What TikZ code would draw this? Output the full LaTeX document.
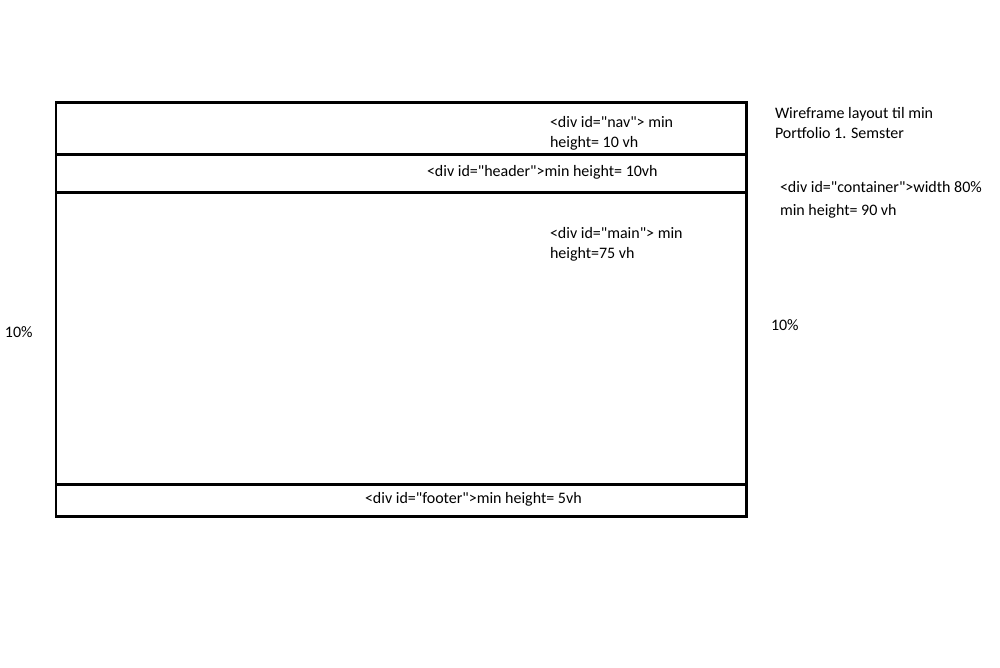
\documentclass[tikz,border=0pt]{standalone}
\usepackage{fontspec}
\setmainfont{Carlito}
\newcommand\qt{\textquotedbl}

\begin{document}
\begin{tikzpicture}[x=0.02cm,y=-0.02cm,line width=1.7pt,
   every node/.style={inner sep=0pt, outer sep=0pt, anchor=west, align=left, font=\fontsize{9.1}{11.2}\selectfont}]
   \useasboundingbox (0,0) rectangle (1000,667);
   % outer box and the parts
   \draw (56,102) rectangle (746,516);
   \draw (56,154) -- (746,154);
   \draw (56,192) -- (746,192);
   \draw (56,484) -- (746,484);
   \node (nav) at (550,133) {<div id=\qt nav\qt> min\\height= 10 vh};
   \node (header) at (427,172) {<div id=\qt header\qt>min height= 10vh};
   \node (main) at (550,244) {<div id=\qt main\qt> min\\height=75 vh};
   \node (footer) at (365,499) {<div id=\qt footer\qt>min height= 5vh};
   % notes on the right
   \node (title) at (775,123) {Wireframe layout til min\\Portfolio 1. Semster};
   \node (container) at (780,200) {<div id=\qt container\qt>width 80\%\\[2pt]min height= 90 vh};
   \node (left) at (5,332) {10\%};
   \node (right) at (771,325) {10\%};
\end{tikzpicture}
\end{document}
